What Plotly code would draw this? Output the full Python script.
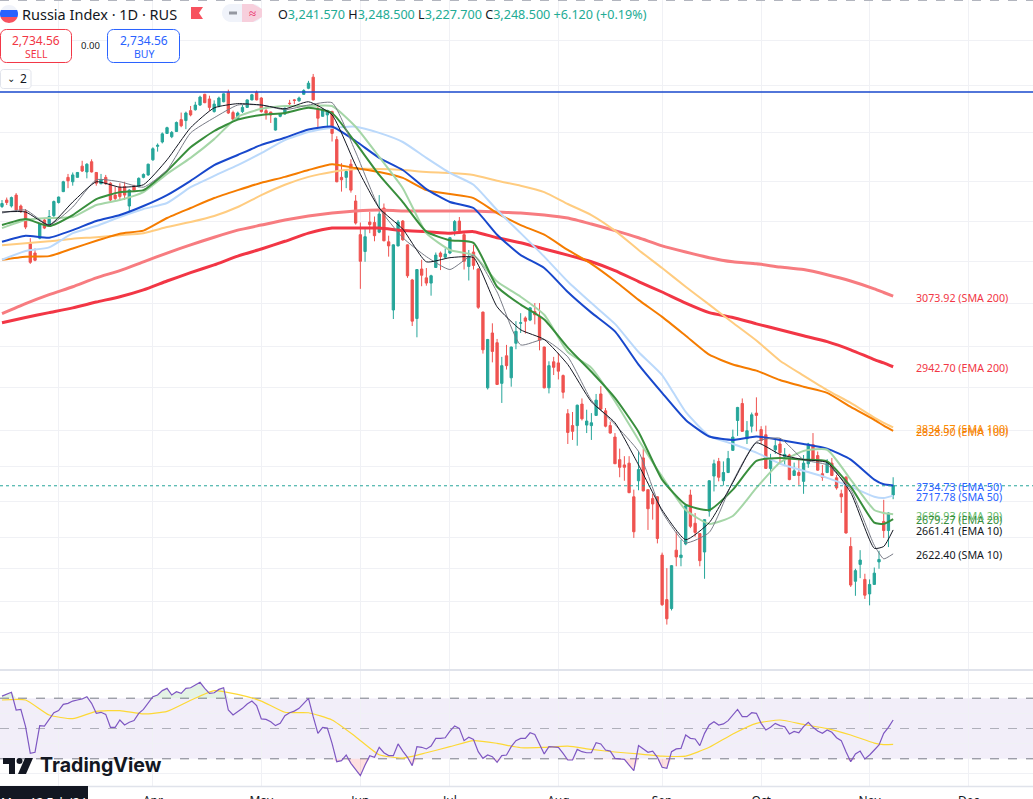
import math
import plotly.graph_objects as go
from plotly.subplots import make_subplots

# candles, one per trading day (bar index = position in the list)
OPEN = [
    3249, 3262, 3250, 3272, 3250, 3239, 3175, 3157, 3186, 3222,
    3214, 3231, 3257, 3279, 3308, 3299, 3308, 3331, 3319, 3340,
    3318, 3295, 3308, 3296, 3272, 3288, 3289, 3250, 3291, 3289,
    3308, 3313, 3344, 3372, 3381, 3399, 3392, 3403, 3428, 3426,
    3447, 3449, 3459, 3482, 3472, 3445, 3457, 3466, 3486, 3443,
    3429, 3445, 3454, 3470, 3486, 3474, 3447, 3444, 3406, 3435,
    3440, 3463, 3470, 3468, 3482, 3495, 3519, 3451, 3435, 3438,
    3445, 3386, 3308, 3308, 3335, 3260, 3193, 3160, 3218, 3217,
    3198, 3246, 3179, 3048, 3171, 3220, 3173, 3105, 3032, 3126,
    3109, 3099, 3129, 3157, 3149, 3157, 3201, 3220, 3193, 3131,
    3159, 3126, 3044, 2905, 3005, 2987, 2913, 2963, 2923, 2986,
    3023, 3033, 3029, 3045, 3036, 2979, 2905, 2952, 2950, 2927,
    2859, 2838, 2838, 2876, 2839, 2838, 2856, 2894, 2864, 2838,
    2818, 2779, 2770, 2773, 2716, 2743, 2782, 2728, 2713, 2716,
    2620, 2549, 2535, 2628, 2616, 2638, 2719, 2672, 2655, 2625,
    2692, 2751, 2776, 2743, 2757, 2795, 2847, 2877, 2815, 2837,
    2860, 2831, 2822, 2764, 2796, 2806, 2784, 2787, 2752, 2757,
    2742, 2772, 2805, 2786, 2755, 2757, 2773, 2748, 2721, 2749,
    2634, 2578, 2605, 2581, 2558, 2573, 2609, 2675, 2660, 2719,
]
HIGH = [
    3262, 3267, 3269, 3276, 3253, 3244, 3186, 3166, 3216, 3226,
    3242, 3261, 3269, 3301, 3315, 3318, 3319, 3342, 3337, 3345,
    3319, 3315, 3313, 3298, 3289, 3296, 3299, 3284, 3293, 3308,
    3316, 3336, 3370, 3378, 3401, 3413, 3404, 3424, 3443, 3445,
    3457, 3466, 3479, 3483, 3479, 3469, 3477, 3484, 3492, 3447,
    3445, 3459, 3471, 3483, 3490, 3476, 3456, 3445, 3432, 3442,
    3454, 3470, 3472, 3477, 3493, 3511, 3526, 3463, 3452, 3449,
    3447, 3393, 3337, 3325, 3345, 3272, 3217, 3204, 3238, 3229,
    3272, 3255, 3191, 3174, 3222, 3222, 3174, 3107, 3126, 3144,
    3128, 3115, 3158, 3160, 3166, 3188, 3222, 3228, 3197, 3163,
    3173, 3128, 3045, 2994, 3023, 2994, 2961, 2983, 2980, 3027,
    3042, 3036, 3053, 3061, 3061, 2980, 2953, 2961, 2968, 2929,
    2867, 2862, 2875, 2886, 2866, 2860, 2894, 2908, 2869, 2845,
    2825, 2798, 2785, 2785, 2728, 2794, 2798, 2728, 2721, 2717,
    2624, 2599, 2604, 2658, 2645, 2702, 2728, 2689, 2656, 2679,
    2744, 2779, 2782, 2776, 2794, 2831, 2871, 2886, 2846, 2861,
    2888, 2837, 2838, 2789, 2816, 2816, 2799, 2789, 2774, 2780,
    2787, 2808, 2825, 2793, 2770, 2780, 2782, 2753, 2728, 2751,
    2649, 2598, 2628, 2590, 2581, 2600, 2627, 2711, 2690, 2749,
]
LOW = [
    3246, 3252, 3247, 3239, 3236, 3204, 3136, 3141, 3184, 3204,
    3213, 3228, 3255, 3278, 3286, 3291, 3308, 3319, 3306, 3318,
    3291, 3294, 3293, 3257, 3261, 3262, 3262, 3237, 3279, 3288,
    3306, 3311, 3342, 3361, 3378, 3398, 3389, 3402, 3412, 3408,
    3435, 3447, 3457, 3463, 3447, 3443, 3454, 3465, 3440, 3426,
    3428, 3442, 3453, 3469, 3469, 3443, 3428, 3421, 3405, 3433,
    3438, 3452, 3461, 3466, 3481, 3493, 3469, 3412, 3434, 3412,
    3382, 3298, 3279, 3286, 3277, 3213, 3088, 3140, 3196, 3180,
    3196, 3180, 3150, 3031, 3170, 3181, 3109, 3018, 2997, 3093,
    3094, 3075, 3128, 3124, 3147, 3155, 3191, 3197, 3125, 3104,
    3125, 3050, 2967, 2902, 2951, 2910, 2878, 2938, 2907, 2975,
    3005, 3004, 3027, 3021, 2973, 2904, 2895, 2928, 2920, 2886,
    2806, 2813, 2803, 2847, 2825, 2813, 2855, 2866, 2835, 2824,
    2772, 2749, 2743, 2722, 2648, 2727, 2725, 2661, 2678, 2639,
    2539, 2510, 2532, 2602, 2602, 2636, 2664, 2650, 2602, 2582,
    2683, 2725, 2742, 2735, 2756, 2794, 2820, 2827, 2806, 2826,
    2828, 2806, 2763, 2738, 2789, 2773, 2768, 2744, 2751, 2736,
    2721, 2765, 2779, 2760, 2743, 2756, 2751, 2728, 2689, 2655,
    2569, 2555, 2583, 2550, 2540, 2573, 2598, 2648, 2633, 2712,
]
CLOSE = [
    3255, 3257, 3267, 3242, 3239, 3208, 3139, 3143, 3214, 3206,
    3229, 3259, 3268, 3299, 3301, 3313, 3318, 3321, 3335, 3319,
    3296, 3303, 3295, 3262, 3265, 3269, 3272, 3282, 3282, 3306,
    3314, 3335, 3367, 3374, 3398, 3411, 3401, 3422, 3415, 3442,
    3438, 3459, 3476, 3464, 3454, 3461, 3474, 3483, 3442, 3429,
    3442, 3454, 3470, 3481, 3470, 3445, 3442, 3438, 3431, 3440,
    3452, 3462, 3469, 3474, 3490, 3506, 3470, 3431, 3449, 3447,
    3399, 3299, 3303, 3320, 3282, 3216, 3141, 3189, 3213, 3191,
    3234, 3181, 3171, 3173, 3218, 3183, 3113, 3027, 3125, 3114,
    3099, 3113, 3153, 3150, 3155, 3187, 3219, 3201, 3141, 3150,
    3133, 3053, 2974, 2993, 2971, 2911, 2945, 2945, 2979, 3008,
    3024, 3027, 3052, 3039, 2992, 2905, 2945, 2942, 2935, 2897,
    2826, 2828, 2874, 2850, 2846, 2843, 2883, 2867, 2837, 2825,
    2772, 2766, 2766, 2723, 2658, 2762, 2726, 2696, 2704, 2647,
    2541, 2519, 2603, 2617, 2620, 2701, 2667, 2657, 2611, 2678,
    2743, 2772, 2749, 2757, 2781, 2818, 2870, 2828, 2829, 2857,
    2856, 2812, 2764, 2781, 2803, 2791, 2788, 2745, 2760, 2752,
    2773, 2806, 2780, 2761, 2749, 2773, 2752, 2731, 2716, 2656,
    2572, 2595, 2612, 2556, 2573, 2591, 2613, 2660, 2689, 2735,
]

# moving averages, read every 5 bars (and once more near the end)
MA_BARS = [0, 5, 10, 15, 20, 25, 30, 35, 40, 45, 50, 55, 60, 65, 70, 75, 80, 85, 90, 95,
           100, 105, 110, 115, 120, 125, 130, 135, 140, 145, 150, 155, 160, 165, 170, 175, 180, 185, 187, 189]
SMA200 = [3041, 3060, 3077, 3092, 3109, 3123, 3140, 3157, 3173, 3188, 3202, 3212, 3222, 3230, 3236, 3240, 3242, 3240, 3240, 3240,
          3240, 3238, 3236, 3232, 3226, 3214, 3201, 3187, 3171, 3159, 3148, 3140, 3136, 3130, 3125, 3115, 3103, 3088, 3081, 3074]
EMA200 = [3024, 3034, 3043, 3052, 3063, 3073, 3086, 3103, 3119, 3134, 3151, 3165, 3180, 3196, 3206, 3206, 3206, 3201, 3199, 3196,
          3199, 3187, 3177, 3165, 3153, 3140, 3123, 3102, 3082, 3061, 3043, 3034, 3022, 3011, 3000, 2989, 2974, 2956, 2950, 2943]
EMA100 = [3144, 3150, 3151, 3166, 3181, 3195, 3201, 3226, 3246, 3266, 3282, 3297, 3309, 3323, 3335, 3327, 3319, 3307, 3282, 3274,
          3266, 3236, 3212, 3193, 3163, 3136, 3103, 3067, 3035, 3000, 2965, 2947, 2936, 2919, 2907, 2896, 2871, 2848, 2838, 2829]
SMA100 = [3172, 3176, 3180, 3185, 3188, 3192, 3196, 3208, 3218, 3230, 3248, 3272, 3293, 3309, 3319, 3325, 3325, 3323, 3319, 3317,
          3313, 3301, 3291, 3278, 3254, 3232, 3201, 3163, 3128, 3092, 3058, 3024, 2991, 2954, 2927, 2901, 2878, 2852, 2843, 2835]
EMA50 = [3179, 3191, 3187, 3202, 3220, 3232, 3250, 3272, 3301, 3333, 3354, 3375, 3390, 3407, 3413, 3383, 3348, 3323, 3284, 3258,
         3246, 3193, 3153, 3128, 3082, 3043, 3008, 2947, 2896, 2848, 2819, 2813, 2819, 2813, 2806, 2798, 2779, 2745, 2737, 2735]
SMA50 = [3144, 3161, 3168, 3196, 3210, 3228, 3244, 3256, 3288, 3311, 3333, 3358, 3385, 3402, 3411, 3413, 3400, 3381, 3348, 3317,
         3293, 3242, 3196, 3150, 3102, 3061, 3022, 2970, 2928, 2862, 2820, 2806, 2791, 2772, 2760, 2748, 2733, 2716, 2714, 2718]
EMA20 = [3212, 3224, 3210, 3232, 3264, 3278, 3282, 3321, 3370, 3404, 3428, 3438, 3442, 3453, 3442, 3379, 3313, 3258, 3199, 3182,
         3177, 3092, 3058, 3030, 2978, 2934, 2887, 2827, 2745, 2703, 2694, 2728, 2777, 2782, 2779, 2776, 2733, 2673, 2671, 2679]
SMA20 = [3206, 3222, 3226, 3228, 3252, 3262, 3278, 3315, 3348, 3387, 3434, 3451, 3457, 3457, 3457, 3413, 3350, 3286, 3196, 3163,
         3153, 3102, 3073, 3039, 2970, 2941, 2881, 2813, 2750, 2694, 2671, 2684, 2731, 2774, 2794, 2796, 2745, 2694, 2689, 2687]
EMA10 = [3238, 3238, 3212, 3258, 3299, 3288, 3293, 3344, 3411, 3453, 3462, 3459, 3451, 3466, 3438, 3333, 3246, 3204, 3140, 3148,
         3148, 3054, 3011, 2993, 2947, 2880, 2843, 2770, 2694, 2645, 2673, 2740, 2808, 2788, 2779, 2774, 2723, 2631, 2634, 2661]
SMA10 = [3236, 3242, 3212, 3248, 3303, 3299, 3288, 3323, 3400, 3432, 3459, 3459, 3449, 3459, 3464, 3360, 3246, 3187, 3150, 3125,
         3153, 3082, 2983, 2993, 2961, 2883, 2840, 2793, 2691, 2640, 2657, 2742, 2810, 2816, 2779, 2770, 2728, 2636, 2614, 2622]

# RSI per bar, and its moving average at MA_BARS
RSI = [
    71.4, 72.8, 73.9, 62.2, 62.6, 51.2, 33.6, 34.3, 51.9, 51.6,
    55.6, 60.4, 61.8, 65.9, 66.6, 68.1, 68.8, 69.5, 71.0, 66.6,
    60.0, 60.7, 59.3, 50.8, 50.8, 55.6, 52.3, 54.1, 55.2, 60.0,
    62.6, 66.6, 71.0, 72.1, 75.0, 76.5, 72.1, 74.3, 73.2, 76.5,
    76.9, 78.7, 80.5, 76.5, 73.2, 73.6, 75.8, 76.9, 62.2, 58.9,
    61.1, 63.3, 66.2, 68.1, 65.1, 56.3, 56.0, 54.5, 51.9, 53.4,
    58.5, 60.4, 61.5, 63.3, 66.6, 69.9, 57.8, 46.8, 50.8, 50.3,
    40.2, 28.1, 28.8, 32.5, 27.0, 23.3, 18.9, 25.9, 32.1, 31.0,
    37.6, 34.0, 32.1, 32.1, 39.8, 35.1, 31.0, 25.5, 38.0, 37.6,
    36.5, 38.4, 43.5, 43.5, 43.9, 48.3, 51.6, 50.1, 42.0, 44.2,
    42.8, 34.7, 30.3, 32.5, 31.4, 27.7, 32.1, 32.5, 38.0, 42.0,
    43.5, 43.5, 47.2, 46.1, 39.1, 33.2, 38.0, 38.0, 37.6, 33.6,
    29.2, 29.2, 36.2, 34.7, 34.0, 34.0, 40.6, 39.8, 35.8, 35.1,
    30.3, 29.9, 29.6, 25.9, 22.2, 38.7, 36.5, 34.3, 35.1, 31.0,
    24.4, 23.7, 34.7, 36.5, 36.9, 45.7, 43.5, 43.1, 38.7, 46.8,
    52.3, 54.5, 52.3, 53.0, 55.2, 58.9, 62.6, 57.8, 57.8, 60.4,
    60.0, 53.4, 49.0, 50.8, 53.4, 51.9, 51.2, 46.4, 48.1, 47.2,
    51.2, 54.1, 50.8, 48.3, 46.8, 49.0, 47.5, 43.9, 42.0, 34.7,
    28.1, 33.2, 35.1, 29.9, 32.5, 35.8, 39.1, 46.8, 50.8, 55.6,
]
RSI_MA = [68.8, 68.8, 58.9, 56.5, 61.3, 61.8, 59.6, 61.3, 68.6, 75.0, 72.5, 68.1, 60.7, 60.4, 55.6, 44.6, 32.7, 30.5, 34.0, 38.0,
          42.0, 40.2, 37.3, 37.6, 38.4, 36.2, 34.5, 33.2, 31.8, 31.8, 37.6, 46.4, 53.4, 55.6, 52.7, 49.9, 45.7, 40.4, 39.4, 39.5]
RSI_UPPER = 70
RSI_MID = 50
RSI_LOWER = 30

MONTH_BARS = [12, 32, 55, 76, 95, 118, 140, 161, 184, 205]
MONTH_LABELS = ["", "Apr", "May", "Jun", "Jul", "Aug", "Sep", "Oct", "Nov", "Dec"]
PRICE_GRID = [3600, 3500, 3400, 3300, 3220, 3140, 3060, 2980, 2905, 2830, 2767, 2708, 2648, 2598, 2546, 2498]
RSI_GRID = [20, 40, 60, 80]

ALERT_PRICE = 3487
LAST_PRICE = 2734.56

LABEL_VALUES = [3073.92, 2942.70, 2834.57, 2828.90, 2734.73, 2717.78, 2686.93, 2679.27, 2661.41, 2622.40]
LABEL_NAMES = ["SMA 200", "EMA 200", "SMA 100", "EMA 100", "EMA 50", "SMA 50", "SMA 20", "EMA 20", "EMA 10", "SMA 10"]
LABEL_COLORS = ["#F23645", "#F23645", "#FB8C00", "#F57C00", "#2962FF", "#2962FF", "#66BB6A", "#388E3C", "#131722", "#131722"]

W, H = 1033, 799
UP = "#26A69A"
DOWN = "#EF5350"
GRID = "#F0F1F5"
FONT = "Noto Sans"


def fx(x):
    return x / W


def fy(y):
    return 1 - y / H


bars = list(range(len(CLOSE)))

fig = make_subplots(rows=2, cols=1, shared_xaxes=True)

ma_lines = [
    (SMA200, "#F77C80", 3), (EMA200, "#F23645", 3),
    (SMA100, "#FFCC80", 2), (EMA100, "#F57C00", 2),
    (SMA50, "#BBD9FB", 2), (EMA50, "#1848CC", 2),
    (SMA20, "#A5D6A7", 2), (EMA20, "#388E3C", 2),
    (SMA10, "#787B86", 1), (EMA10, "#131722", 1),
]
for values, color, width in ma_lines:
    fig.add_trace(go.Scatter(x=MA_BARS, y=values, mode="lines",
                             line=dict(color=color, width=width, shape="spline", smoothing=0.5)),
                  row=1, col=1)

fig.add_trace(go.Candlestick(x=bars, open=OPEN, high=HIGH, low=LOW, close=CLOSE,
                             whiskerwidth=0,
                             increasing=dict(line=dict(color=UP, width=1), fillcolor=UP),
                             decreasing=dict(line=dict(color=DOWN, width=1), fillcolor=DOWN)),
              row=1, col=1)

# price lines across the whole pane
x_first, x_last = -0.424, 218.66
fig.add_trace(go.Scatter(x=[x_first, x_last], y=[ALERT_PRICE, ALERT_PRICE], mode="lines",
                         line=dict(color="#1848CC", width=1.4)), row=1, col=1)
fig.add_trace(go.Scatter(x=[x_first, x_last], y=[LAST_PRICE, LAST_PRICE], mode="lines",
                         line=dict(color="#26A69A", width=1, dash="dot")), row=1, col=1)

# value labels right of the last bar, placed on the log axis
for value, name, color in zip(LABEL_VALUES, LABEL_NAMES, LABEL_COLORS):
    fig.add_annotation(xref="x", yref="y", x=193.6, y=math.log10(value), yshift=-1.5,
                       text=f"{value:.2f} ({name})", showarrow=False, xanchor="left", yanchor="middle",
                       borderpad=0, font=dict(family=FONT, size=10.7, color=color))

# RSI pane
fig.add_shape(type="rect", xref="paper", x0=0, x1=1, yref="y2", y0=RSI_LOWER, y1=RSI_UPPER,
              fillcolor="rgba(126,87,194,0.1)", line_width=0, layer="below")
for level, color in [(RSI_UPPER, "#787B86"), (RSI_MID, "rgba(120,123,134,0.55)"), (RSI_LOWER, "#787B86")]:
    fig.add_trace(go.Scatter(x=[x_first, x_last], y=[level, level], mode="lines",
                             line=dict(color=color, width=1, dash="dash")), row=2, col=1)

above = [max(v, RSI_UPPER) for v in RSI]
below = [min(v, RSI_LOWER) for v in RSI]
fig.add_trace(go.Scatter(x=bars, y=[RSI_UPPER] * len(bars), mode="lines", line=dict(width=0)), row=2, col=1)
fig.add_trace(go.Scatter(x=bars, y=above, mode="lines", line=dict(width=0), fill="tonexty",
                         fillcolor="rgba(76,175,80,0.15)"), row=2, col=1)
fig.add_trace(go.Scatter(x=bars, y=[RSI_LOWER] * len(bars), mode="lines", line=dict(width=0)), row=2, col=1)
fig.add_trace(go.Scatter(x=bars, y=below, mode="lines", line=dict(width=0), fill="tonexty",
                         fillcolor="rgba(255,82,82,0.18)"), row=2, col=1)
fig.add_trace(go.Scatter(x=MA_BARS, y=RSI_MA, mode="lines",
                         line=dict(color="#FDD835", width=1.2, shape="spline", smoothing=0.5)), row=2, col=1)
fig.add_trace(go.Scatter(x=bars, y=RSI, mode="lines", line=dict(color="#7E57C2", width=1.2)), row=2, col=1)

fig.update_xaxes(range=[x_first, x_last], rangeslider_visible=False, tickmode="array", automargin=False,
                 tickvals=MONTH_BARS, gridcolor=GRID, zeroline=False, showline=False)
fig.update_xaxes(showticklabels=False, ticks="", row=1, col=1)
fig.update_xaxes(ticktext=MONTH_LABELS, ticks="outside", ticklen=4, tickcolor="rgba(0,0,0,0)",
                 tickfont=dict(family=FONT, size=12, color="#131722"), row=2, col=1)
fig.update_yaxes(type="log", range=[3.38750, 3.56711], domain=[fy(670), 1], tickmode="array", automargin=False,
                 tickvals=PRICE_GRID, showticklabels=False, gridcolor=GRID, zeroline=False, row=1, col=1)
fig.update_yaxes(range=[12.05, 87.95], domain=[fy(786), fy(671)], tickmode="array", automargin=False,
                 tickvals=RSI_GRID, showticklabels=False, gridcolor=GRID, zeroline=False, row=2, col=1)


# chart chrome drawn over the panes
def line_px(x0, y0, x1, y1, color, width=1, dash="solid"):
    fig.add_shape(type="line", xref="paper", yref="paper", x0=fx(x0), x1=fx(x1), y0=fy(y0), y1=fy(y1),
                  line=dict(color=color, width=width, dash=dash), layer="above")


def poly(points, fill, stroke=None, stroke_w=1):
    path = "M " + " L ".join(f"{fx(x):.5f},{fy(y):.5f}" for x, y in points) + " Z"
    fig.add_shape(type="path", xref="paper", yref="paper", path=path, fillcolor=fill,
                  line=dict(color=stroke or "rgba(0,0,0,0)", width=stroke_w), layer="above")


def round_rect(x0, y0, x1, y1, r, fill, stroke=None):
    pts = []
    for cx, cy, a0 in [(x1 - r, y0 + r, -90), (x1 - r, y1 - r, 0), (x0 + r, y1 - r, 90), (x0 + r, y0 + r, 180)]:
        for k in range(7):
            a = math.radians(a0 + 15 * k)
            pts.append((cx + r * math.cos(a), cy + r * math.sin(a)))
    poly(pts, fill, stroke)


def label(x, y, text, size, color, anchor="left", family=FONT, weight=None):
    fig.add_annotation(xref="paper", yref="paper", x=fx(x), y=fy(y), text=text, showarrow=False,
                       xanchor=anchor, yanchor="middle", borderpad=0, borderwidth=0,
                       font=dict(family=family, size=size, color=color, weight=weight))


def flag_band(cx, cy, r, y0, y1, color):
    ys = [y0 + (y1 - y0) * k / 8 for k in range(9)]
    left = [(cx - math.sqrt(max(r * r - (y - cy) ** 2, 0)), y) for y in ys]
    right = [(cx + math.sqrt(max(r * r - (y - cy) ** 2, 0)), y) for y in reversed(ys)]
    poly(left + right, color)


# separators
line_px(0, 670, W, 670, "#E0E3EB", 2)
line_px(0, 786.5, W, 786.5, "#E0E3EB", 1.5)
line_px(0, 0.5, W, 0.5, "#B2B5BE", 1, "dash")

# header
flag_band(9, 14, 9, 5, 10, "#F0F3FA")
flag_band(9, 14, 9, 10, 17, "#2962FF")
flag_band(9, 14, 9, 17, 23, "#F7525F")
label(22, 14, "Russia Index · 1D · RUS", 14.5, "#131722")
poly([(191, 7), (203, 7), (199, 13), (203, 19), (191, 19)], "#F7525F")
round_rect(222, 4, 262, 22, 9, "#F0F3FA")
poly([(242, 4), (253, 4), (262, 9), (262, 17), (253, 22), (242, 22)], "#F7CFDC")
line_px(229, 13, 237, 13, "#9598A1", 3)
label(252, 13, "≈", 13, "#E91E63", "center")
val = "#22AB94"
label(278, 14,
      f"O<span style='color:{val}'>3,241.570</span> H<span style='color:{val}'>3,248.500</span> "
      f"L<span style='color:{val}'>3,227.700</span> C<span style='color:{val}'>3,248.500</span> "
      f"<span style='color:{val}'>+6.120 (+0.19%)</span>", 12.6, "#131722")

# trade buttons
round_rect(0.5, 29.5, 71.5, 62.5, 6, "#FFFFFF", "#F23645")
label(36, 40, "2,734.56", 12, "#F23645", "center")
label(36, 54, "SELL", 10.5, "#F23645", "center")
label(90, 46, "0.00", 9.5, "#131722", "center")
round_rect(107.5, 29.5, 179.5, 62.5, 6, "#FFFFFF", "#2962FF")
label(144, 40, "2,734.56", 12, "#2962FF", "center")
label(144, 54, "BUY", 10.5, "#2962FF", "center")
round_rect(0.5, 69.5, 31, 88.5, 3, "#FFFFFF", "#E0E3EB")
label(11, 78, "⌄", 10, "#131722", "center")
label(23, 79, "2", 12, "#131722", "center")

# logo
poly([(3, 758), (15, 758), (15, 774), (9, 774), (9, 764), (3, 764)], "#131722")
poly([(25, 758), (33, 758), (26, 774), (18, 774)], "#131722")
fig.add_shape(type="circle", xref="paper", yref="paper", x0=fx(16.5), x1=fx(22.5), y0=fy(764), y1=fy(758),
              fillcolor="#131722", line_width=0, layer="above")
label(40, 765, "<b>TradingView</b>", 19.6, "#131722", family="Inter")

# crosshair date box, cut by the bottom of the frame
poly([(0, 786), (88, 786), (88, 799), (0, 799)], "#131722")
label(44, 802.5, "Mon 12 Feb '24", 12, "#FFFFFF", "center")

fig.update_layout(width=W, height=H, margin=dict(l=0, r=0, t=0, b=0), showlegend=False,
                  paper_bgcolor="#FFFFFF", plot_bgcolor="#FFFFFF", hovermode=False,
                  font=dict(family=FONT))

# page margin would push the figure 8px in
fig.write_html("out.html", config={"displayModeBar": False},
               post_script="document.body.style.margin='0';document.body.style.overflow='hidden';")
